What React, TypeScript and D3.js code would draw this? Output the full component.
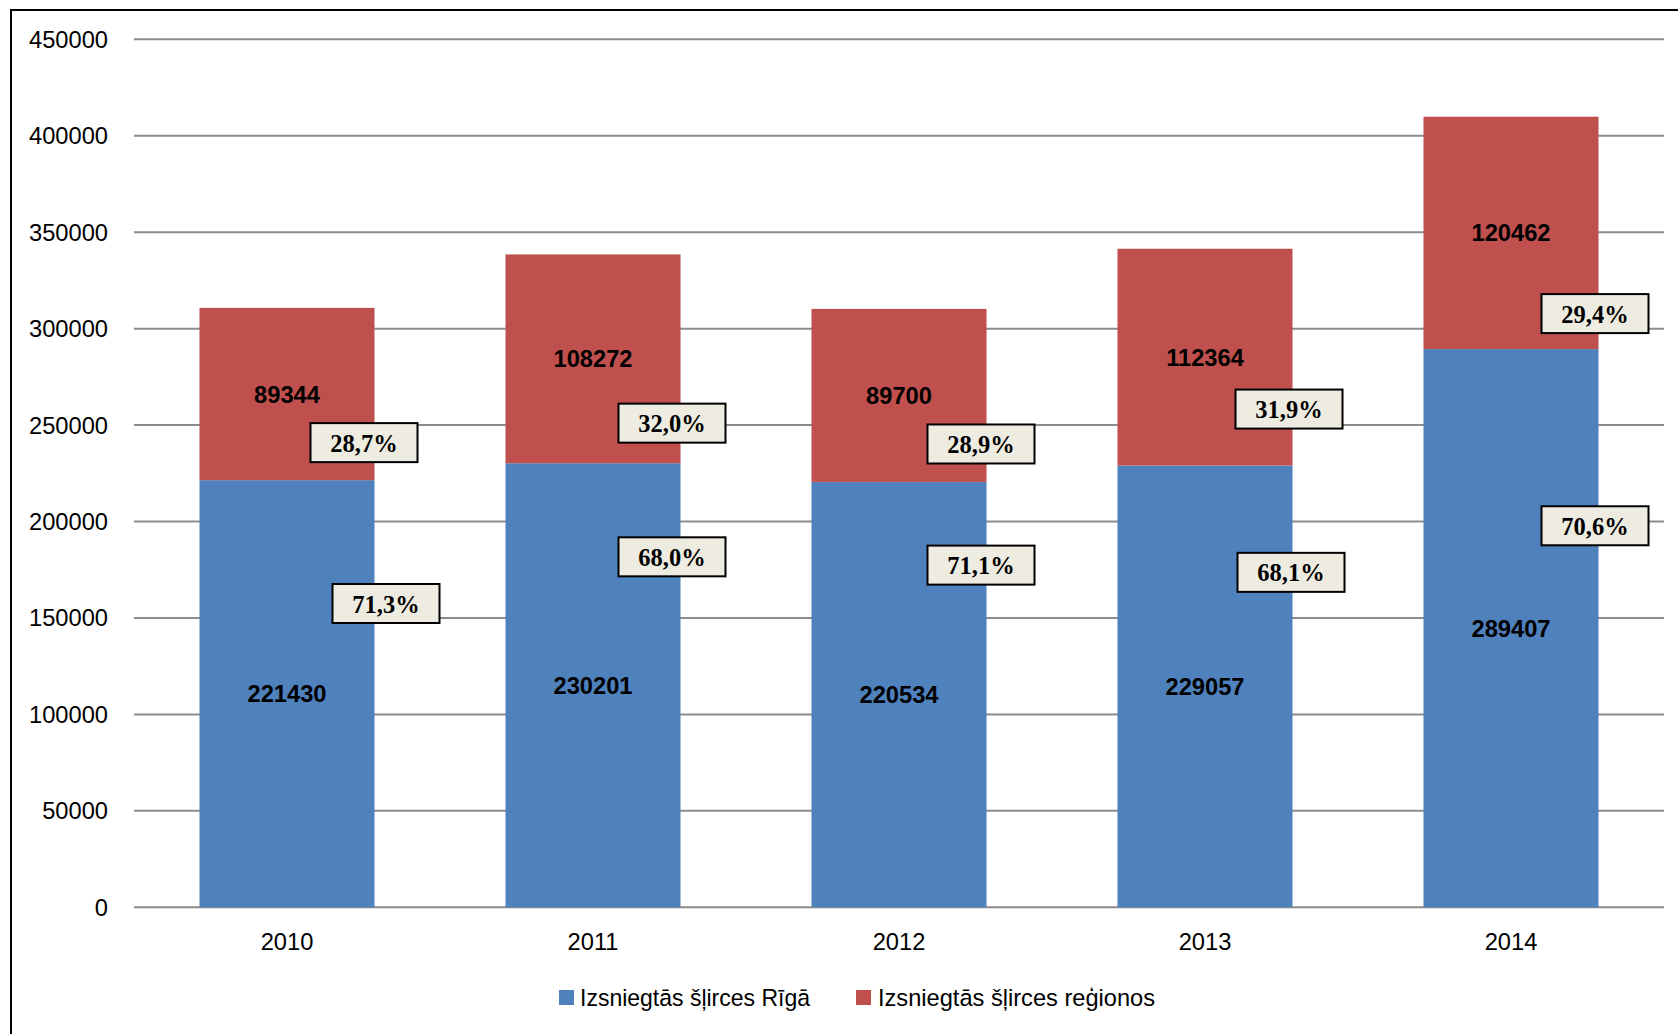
import React from "react";
import * as d3 from "d3";

const years = ["2010", "2011", "2012", "2013", "2014"];
const rigaValues = [221430, 230201, 220534, 229057, 289407];
const regionValues = [89344, 108272, 89700, 112364, 120462];
const rigaPct = ["71,3%", "68,0%", "71,1%", "68,1%", "70,6%"];
const regionPct = ["28,7%", "32,0%", "28,9%", "31,9%", "29,4%"];
const yTicks = [0, 50000, 100000, 150000, 200000, 250000, 300000, 350000, 400000, 450000];
const seriesNames = ["Izsniegtās šļirces Rīgā", "Izsniegtās šļirces reģionos"];

// manual placement of the percentage call-outs (as in the source chart): x offset from bar centre (px), anchor in axis units
const regionPctPlace = [
  { dx: 77, at: 240900 },
  { dx: 79, at: 251000 },
  { dx: 82, at: 240200 },
  { dx: 84, at: 258300 },
  { dx: 84, at: 307800 },
];
const rigaPctPlace = [
  { dx: 99, at: 157500 },
  { dx: 79, at: 181700 },
  { dx: 82, at: 177400 },
  { dx: 86, at: 173650 },
  { dx: 84, at: 197800 },
];

const W = 1678;
const H = 1034;
const BLUE = "#4F81BD";
const RED = "#C0504D";
const SANS = "'Liberation Sans', Arial, sans-serif";
const SERIF = "'Liberation Serif', 'Times New Roman', serif";

export default function App() {
  const x = d3.scaleBand<string>().domain(years).range([134, 1664]).paddingInner(0.428).paddingOuter(0.214);
  const y = d3.scaleLinear().domain([0, 450000]).range([907.3, 39.3]);
  const bw = x.bandwidth();
  const boxW = 107;
  const boxH = 39;

  return (
    <svg width={W} height={H} style={{ position: "absolute", left: 0, top: 0, background: "#fff" }}>
      <rect x={0} y={0} width={W} height={H} fill="#fff" />
      <rect x={11} y={10} width={W + 40} height={H + 40} fill="none" stroke="#000" strokeWidth={2} />
      {yTicks.map((t) => (
        <g key={t}>
          <line x1={134} x2={1664} y1={y(t)} y2={y(t)} stroke="#8C8C8C" strokeWidth={2} />
          <text x={108} y={y(t) + 8.5} textAnchor="end" fontFamily={SANS} fontSize={23.7} fill="#000">
            {t}
          </text>
        </g>
      ))}
      {years.map((yr, i) => {
        const x0 = x(yr)!;
        const cx = x0 + bw / 2;
        const r = rigaValues[i];
        const g = regionValues[i];
        return (
          <g key={yr}>
            <rect x={x0} y={y(r)} width={bw} height={y(0) - y(r)} fill={BLUE} />
            <rect x={x0} y={y(r + g)} width={bw} height={y(r) - y(r + g)} fill={RED} />
            <text x={cx} y={(y(0) + y(r)) / 2 + 8.5} textAnchor="middle" fontFamily={SANS} fontWeight="bold" fontSize={23.7}>
              {r}
            </text>
            <text x={cx} y={(y(r) + y(r + g)) / 2 + 8.5} textAnchor="middle" fontFamily={SANS} fontWeight="bold" fontSize={23.7}>
              {g}
            </text>
            <text x={cx} y={950} textAnchor="middle" fontFamily={SANS} fontSize={23.7}>
              {yr}
            </text>
          </g>
        );
      })}
      {years.map((yr, i) => {
        const cx = x(yr)! + bw / 2;
        const items = [
          { p: regionPctPlace[i], label: regionPct[i] },
          { p: rigaPctPlace[i], label: rigaPct[i] },
        ];
        return items.map((it, j) => {
          const bx = cx + it.p.dx;
          const by = y(it.p.at);
          return (
            <g key={yr + j}>
              <rect x={bx - boxW / 2} y={by - boxH / 2} width={boxW} height={boxH} fill="#EEECE1" stroke="#000" strokeWidth={2} />
              <text x={bx} y={by + 9} textAnchor="middle" fontFamily={SERIF} fontWeight="bold" fontSize={24.5}>
                {it.label}
              </text>
            </g>
          );
        });
      })}
      <rect x={559} y={990} width={15} height={15} fill={BLUE} />
      <text x={580} y={1006} fontFamily={SANS} fontSize={23.7} textLength={230} lengthAdjust="spacingAndGlyphs">
        {seriesNames[0]}
      </text>
      <rect x={856} y={990} width={15} height={15} fill={RED} />
      <text x={878} y={1006} fontFamily={SANS} fontSize={23.7} textLength={277} lengthAdjust="spacingAndGlyphs">
        {seriesNames[1]}
      </text>
    </svg>
  );
}
